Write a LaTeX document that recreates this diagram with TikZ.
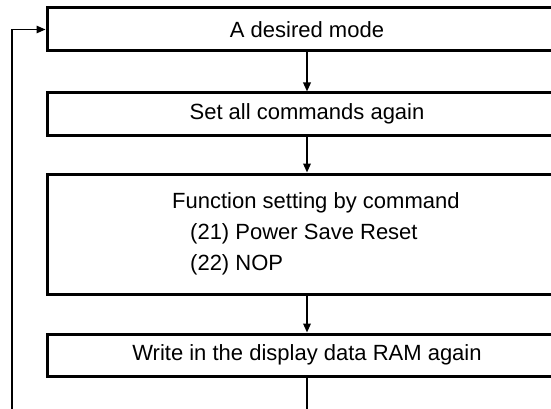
\documentclass[tikz,border=0pt]{standalone}
\usepackage{fontspec}
\setmainfont{Liberation Sans}
\usetikzlibrary{arrows.meta}
\begin{document}
\begin{tikzpicture}[x=1pt,y=-1pt,
  box/.style={draw=black, line width=3pt, minimum width=520pt, inner sep=0pt,
    font=\fontsize{22}{26}\selectfont},
  lbl/.style={inner sep=0pt, font=\fontsize{22}{26}\selectfont},
  conn/.style={line width=1.8pt, -{Triangle[length=9pt,width=7.5pt]}},
  plain/.style={line width=1.8pt}]
\useasboundingbox (0,0) rectangle (551,409);
\clip (0,0) rectangle (551,409);
\node[box, minimum height=43pt] (b1) at (307,29.5) {A desired mode};
\node[box, minimum height=42pt] (b2) at (307,114) {Set all commands again};
\node[box, minimum height=120pt] (b3) at (307,234) {};
\node[box, minimum height=42pt] (b4) at (307,355) {Write in the display data RAM again};
\node[lbl, anchor=base west] (t1) at (172,208) {Function setting by command};
\node[lbl, anchor=base west] (t2) at (190,239) {(21) Power Save Reset};
\node[lbl, anchor=base west] (t3) at (190,270) {(22) NOP};
\coordinate (c1) at (12,409);
\coordinate (c3) at (307,409);
\draw[conn] (b1.south) -- (b2.north);
\draw[conn] (b2.south) -- (b3.north);
\draw[conn] (b3.south) -- (b4.north);
\draw[plain] (b4.south) -- (c3);
\draw[conn, line width=1.4pt] (c1) |- (b1.west);
\end{tikzpicture}
\end{document}
